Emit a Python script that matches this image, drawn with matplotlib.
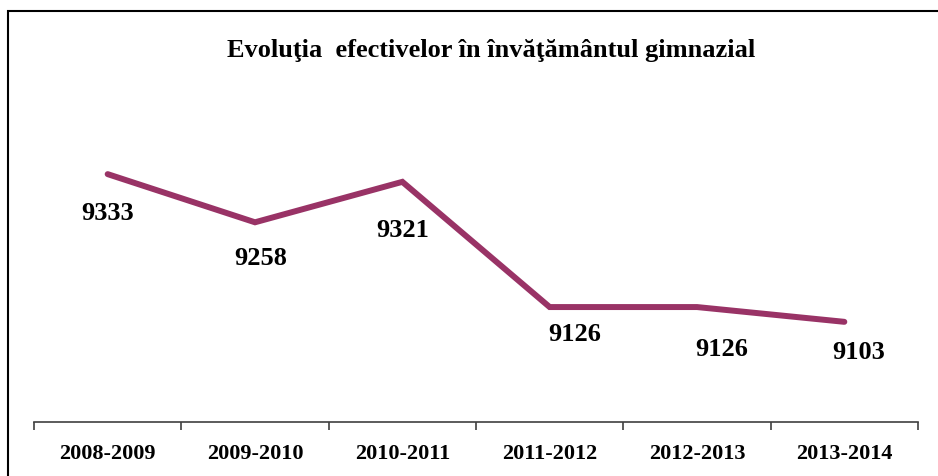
import matplotlib.pyplot as plt
from matplotlib.patches import Rectangle

years = ["2008-2009", "2009-2010", "2010-2011", "2011-2012", "2012-2013", "2013-2014"]
pupils = [9333, 9258, 9321, 9126, 9126, 9103]
# label offsets in pixels (dx, dy below the point)
label_offsets = [(0, -38), (6, -35), (0, -48), (25, -26), (25, -41), (14, -30)]

plt.rcParams['font.family'] = ['Liberation Serif', 'DejaVu Serif']
plt.rcParams['font.weight'] = 'bold'

fig = plt.figure(figsize=(9.38, 4.77), dpi=100)
ax = fig.add_axes([34/938, 1 - 423/477, 884/938, 323/477])

x = list(range(len(years)))
ax.plot(x, pupils, color="#993366", lw=4.3, solid_joinstyle="miter", solid_capstyle="round")

for xi, v, (dx, dy) in zip(x, pupils, label_offsets):
    ax.annotate(str(v), (xi, v), xytext=(dx, dy), textcoords="offset pixels",
                ha="center", va="center", fontsize=19, fontweight="bold")

ax.set_xlim(-0.5, len(years) - 0.5)
ax.set_ylim(8947, 9450)

ax.set_xticks([i - 0.5 for i in range(len(years) + 1)])
ax.set_xticklabels([])
ax.set_xticks(x, minor=True)
ax.set_xticklabels(years, minor=True, fontsize=16, fontweight="bold")
ax.tick_params(axis="x", which="major", length=6, width=1.2, color="#404040", direction="out")
ax.tick_params(axis="x", which="minor", length=0, pad=15)
ax.set_yticks([])
for s in ["top", "right", "left"]:
    ax.spines[s].set_visible(False)
ax.spines["bottom"].set_color("#404040")
ax.spines["bottom"].set_linewidth(1.2)

fig.text(491/938, 1 - 51/477, "Evoluţia  efectivelor în învăţământul gimnazial",
         ha="center", va="center", fontsize=19, fontweight="bold")

fig.patches.append(Rectangle((8/938, -0.1), 1.2, 1 - 12/477 + 0.1, transform=fig.transFigure,
                             fill=False, edgecolor="black", lw=1.5))

fig.savefig("out.png", dpi=100)
